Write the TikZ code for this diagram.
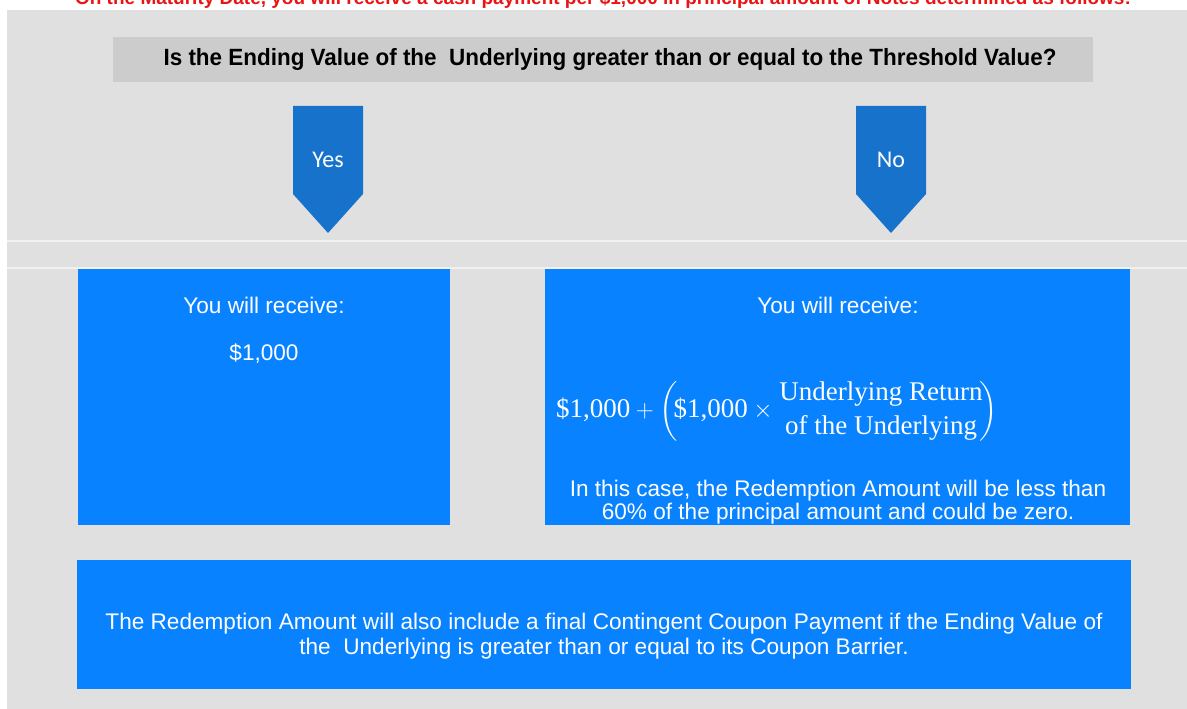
\documentclass[tikz,border=0pt]{standalone}
\usepackage{amsmath}
\usepackage{fontspec}
\setmainfont{Liberation Sans}
\newfontfamily\headfont[FakeStretch=0.955]{Liberation Sans}
\newfontfamily\yesnofont{Carlito}
\newfontfamily\formulafont{Liberation Serif}
\usetikzlibrary{positioning}

\definecolor{panelgray}{RGB}{224,224,224}
\definecolor{headgray}{RGB}{204,204,204}
\definecolor{boxblue}{RGB}{8,130,255}
\definecolor{arrowblue}{RGB}{22,114,202}
\definecolor{notered}{RGB}{235,20,20}

\tikzset{
  bluebox/.style={fill=boxblue, inner sep=0pt},
  boxtext/.style={text=white, font=\fontsize{22.6}{23}\selectfont, align=center},
}

\begin{document}
\begin{tikzpicture}[x=1pt,y=-1pt]
\useasboundingbox (0,0) rectangle (1187,709);
% Background and the gray panel
\fill[white] (0,0) rectangle (1187,709);
\fill[panelgray] (7,10) rectangle (1187,709);
\draw[white!55!panelgray, line width=1.5pt] (7,241) -- (1187,241);
\draw[white!55!panelgray, line width=1.5pt] (7,268) -- (1187,268);

% Red heading, cut off by the top of the page
\node[anchor=base, text=notered, font=\bfseries\fontsize{19}{19}\selectfont] (note) at (603,5)
  {On the Maturity Date, you will receive a cash payment per \$1,000 in principal amount of Notes determined as follows:};

% Question
\node[fill=headgray, minimum width=980pt, minimum height=45pt, inner sep=0pt] (question) at (603,59.5) {};
\node[font=\headfont\bfseries\fontsize{23.5}{23.5}\selectfont] (qtext) at (610,59)
  {Is the Ending Value of the\ \ Underlying greater than or equal to the Threshold Value?};

% Yes / No pointers
\foreach \cx/\lab in {328/Yes, 891/No}
  \fill[arrowblue] (\cx-35,106) -- (\cx+35,106) -- (\cx+35,194) -- (\cx,233) -- (\cx-35,194) -- cycle;
\node[text=white, font=\yesnofont\fontsize{24}{24}\selectfont] (yes) at (328,160) {Yes};
\node[text=white, font=\yesnofont\fontsize{24}{24}\selectfont] (no) at (891,160) {No};

% Result boxes
\node[bluebox, minimum width=372pt, minimum height=256pt] (yesbox) at (264,397) {};
\node[bluebox, minimum width=585pt, minimum height=256pt] (nobox) at (837.5,397) {};
\node[bluebox, minimum width=1054pt, minimum height=129pt] (couponbox) at (604,624.5) {};

\node[boxtext] (yesrec) at (264,305) {You will receive:};
\node[boxtext] (yesamt) at (264,354) {\$1,000};
\node[boxtext] (norec) at (838,305) {You will receive:};
\node[anchor=west, inner sep=0pt, text=white, font=\fontsize{27}{28}\selectfont] (formula) at (556,411)
  {$\text{\formulafont\$1,000} + \left(\!\text{\formulafont\$1,000} \times \genfrac{}{}{0pt}{0}{\text{\formulafont Underlying Return}}{\text{\formulafont of the Underlying}}\!\right)$};
\node[boxtext] (nocase) at (838,502)
  {In this case, the Redemption Amount will be less than\\ 60\% of the principal amount and could be zero.};

\node[boxtext, font=\fontsize{22.6}{25}\selectfont] (coupon) at (604,636)
  {The Redemption Amount will also include a final Contingent Coupon Payment if the Ending Value of\\ the\ \ Underlying is greater than or equal to its Coupon Barrier.};
\end{tikzpicture}
\end{document}
